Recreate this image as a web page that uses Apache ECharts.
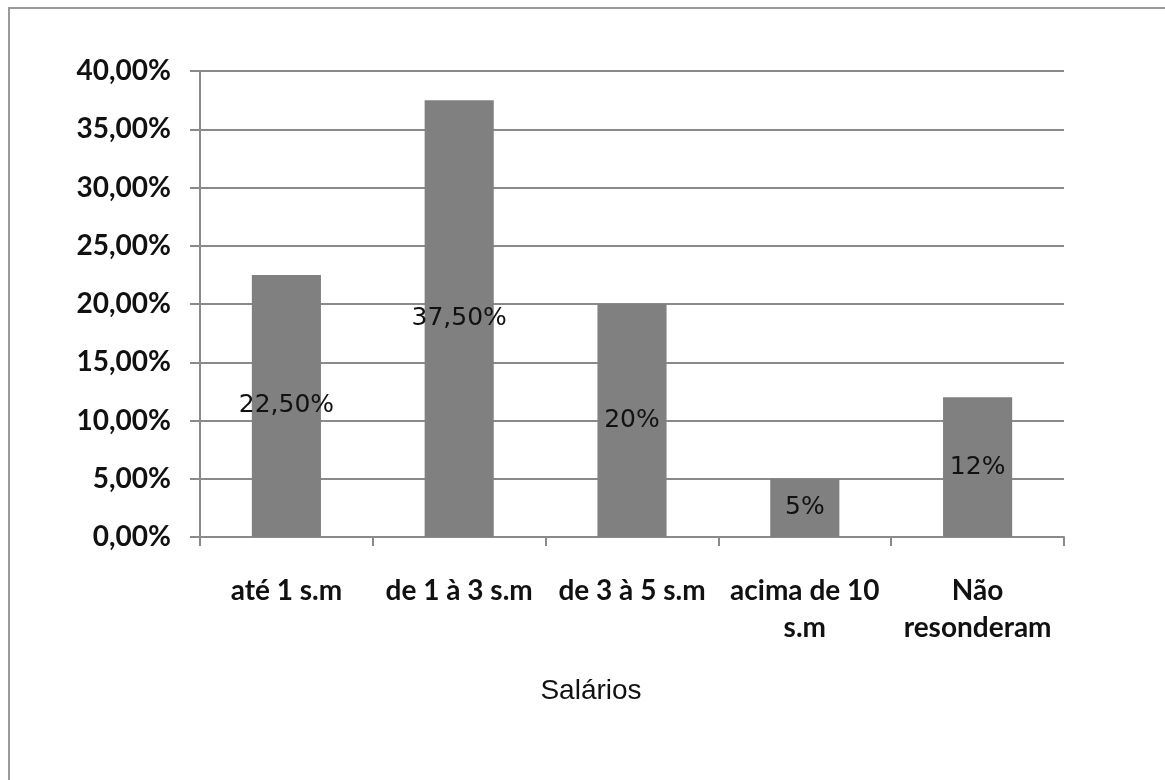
<!DOCTYPE html>
<html>
<head>
<meta charset="utf-8">
<script src="https://cdn.jsdelivr.net/npm/echarts@6/dist/echarts.min.js"></script>
<style>
html,body{margin:0;padding:0;background:#fff;}
#main{width:1165px;height:780px;}
</style>
</head>
<body>
<div id="main"></div>
<script>
const categories = ['até 1 s.m', 'de 1 à 3 s.m', 'de 3 à 5 s.m', 'acima de 10\ns.m', 'Não\nresonderam'];
const values = [22.5, 37.5, 20, 5, 12];
const valueLabels = ['22,50%', '37,50%', '20%', '5%', '12%'];
const axisTitle = 'Salários';
const yMin = 0, yMax = 40, yStep = 5;

const chart = echarts.init(document.getElementById('main'), null, {renderer: 'canvas'});
const option = {
  animation: false,
  backgroundColor: '#ffffff',
  graphic: [{
    type: 'rect',
    shape: {x: 9, y: 8, width: 1200, height: 820},
    style: {fill: 'none', stroke: '#9a9a9a', lineWidth: 2},
    silent: true,
    z: -1
  }],
  title: {
    text: axisTitle,
    left: 586,
    top: 672,
    textAlign: 'center',
    textStyle: {fontFamily: 'Liberation Sans, Arial, sans-serif', fontSize: 28, fontWeight: 'normal', color: '#111'}
  },
  grid: {left: 200, right: 101, top: 71, bottom: 243, containLabel: false},
  xAxis: {
    type: 'category',
    data: categories,
    boundaryGap: true,
    axisLine: {lineStyle: {color: '#8a8a8a', width: 2}},
    axisTick: {show: true, alignWithLabel: false, length: 9, lineStyle: {color: '#8a8a8a', width: 2}},
    axisLabel: {
      margin: 35,
      interval: 0,
      fontFamily: 'Lato, Carlito, sans-serif',
      fontWeight: 'bold',
      fontSize: 28,
      lineHeight: 37,
      color: '#111'
    }
  },
  yAxis: {
    type: 'value',
    min: yMin, max: yMax, interval: yStep,
    axisLine: {show: true, lineStyle: {color: '#8a8a8a', width: 2}},
    axisTick: {show: true, length: 10, lineStyle: {color: '#8a8a8a', width: 2}},
    splitLine: {show: true, lineStyle: {color: '#8a8a8a', width: 2}},
    axisLabel: {
      margin: 29,
      fontFamily: 'Lato, Carlito, sans-serif',
      fontWeight: 'bold',
      fontSize: 28,
      color: '#111',
      formatter: v => v.toFixed(2).replace('.', ',') + '%'
    }
  },
  series: [{
    type: 'bar',
    data: values,
    barWidth: '40%',
    itemStyle: {color: '#808080'},
    label: {
      show: true,
      position: 'inside',
      fontFamily: 'DejaVu Sans, Verdana, sans-serif',
      fontSize: 25,
      color: '#111',
      formatter: p => valueLabels[p.dataIndex]
    }
  }]
};
chart.setOption(option);
</script>
</body>
</html>
